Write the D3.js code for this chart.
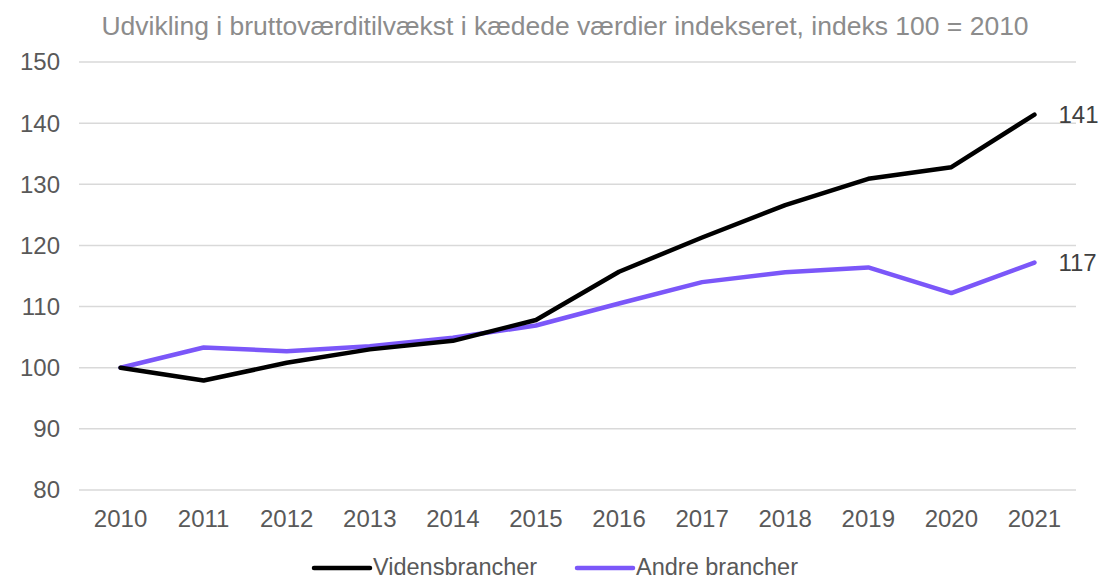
<!DOCTYPE html>
<html>
<head>
<meta charset="utf-8">
<script src="https://cdn.jsdelivr.net/npm/d3@7"></script>
<style>
  body { margin: 0; background: #fff; }
  text { font-family: "Liberation Sans", Arial, sans-serif; }
</style>
</head>
<body>
<svg id="chart"></svg>
<script>
// udvikling i bruttoværditilvækst

var years = [2010, 2011, 2012, 2013, 2014, 2015, 2016, 2017, 2018, 2019, 2020, 2021];
var videns = [100, 97.9, 100.8, 103.0, 104.4, 107.8, 115.7, 121.3, 126.6, 130.9, 132.8, 141.4];
var andre = [100, 103.3, 102.7, 103.5, 104.9, 106.9, 110.5, 114.0, 115.6, 116.4, 112.2, 117.2];
var yTicks = [80, 90, 100, 110, 120, 130, 140, 150];
var seriesNames = ['Vidensbrancher', 'Andre brancher'];
var colors = ['#000000', '#7b57f9'];

var width = 1099, height = 580;
var svg = d3.select('svg#chart')
  .attr('width', width)
  .attr('height', height);

var x = d3.scaleBand()
  .domain(years)
  .range([79, 1076]);

var xc = d => x(d) + x.bandwidth() / 2;

var y = d3.scaleLinear()
  .domain([80, 150])
  .range([490, 62]);

// title
svg.append('text')
  .attr('x', 565)
  .attr('y', 35)
  .attr('text-anchor', 'middle')
  .style('font-size', '26.5px')
  .style('fill', '#8c8c8c')
  .text('Udvikling i bruttoværditilvækst i kædede værdier indekseret, indeks 100 = 2010');

// grid
svg.append('g')
  .selectAll('line')
  .data(yTicks)
  .enter().append('line')
  .attr('x1', 79)
  .attr('x2', 1076)
  .attr('y1', d => y(d))
  .attr('y2', d => y(d))
  .style('stroke', '#d9d9d9')
  .style('stroke-width', 1.5);

// y axis labels
svg.append('g')
  .selectAll('text')
  .data(yTicks)
  .enter().append('text')
  .attr('x', 60)
  .attr('y', d => y(d))
  .attr('dy', '0.35em')
  .attr('text-anchor', 'end')
  .style('font-size', '24px')
  .style('fill', '#595959')
  .text(d => d);

// x axis labels
svg.append('g')
  .selectAll('text')
  .data(years)
  .enter().append('text')
  .attr('x', d => xc(d))
  .attr('y', 527)
  .attr('text-anchor', 'middle')
  .style('font-size', '24px')
  .style('fill', '#595959')
  .text(d => d);

var line = d3.line()
  .x((d, i) => xc(years[i]))
  .y(d => y(d));

var data = [andre, videns];
var dataColors = [colors[1], colors[0]];

svg.append('g')
  .selectAll('path')
  .data(data)
  .enter().append('path')
  .attr('d', line)
  .style('fill', 'none')
  .style('stroke', (d, i) => dataColors[i])
  .style('stroke-width', 4.5)
  .style('stroke-linejoin', 'round')
  .style('stroke-linecap', 'round');

// end labels
[videns, andre].forEach(function(s){
  var last = s[s.length - 1];
  svg.append('text')
    .attr('x', xc(years[years.length - 1]) + 24)
    .attr('y', y(last))
    .attr('dy', '0.35em')
    .style('font-size', '24px')
    .style('fill', '#404040')
    .text(Math.round(last));
});

// legend
var legendX = [314, 577];
seriesNames.forEach(function(name, i){
  var g = svg.append('g').attr('transform', 'translate(' + legendX[i] + ',568)');
  g.append('line')
    .attr('x1', 0).attr('x2', 56)
    .attr('y1', 0).attr('y2', 0)
    .style('stroke', colors[i])
    .style('stroke-width', 4.5)
    .style('stroke-linecap', 'round');
  g.append('text')
    .attr('x', 59)
    .attr('y', 0)
    .attr('dy', '0.3em')
    .style('font-size', '23.5px')
    .style('fill', '#595959')
    .text(name);
});
</script>
</body>
</html>
